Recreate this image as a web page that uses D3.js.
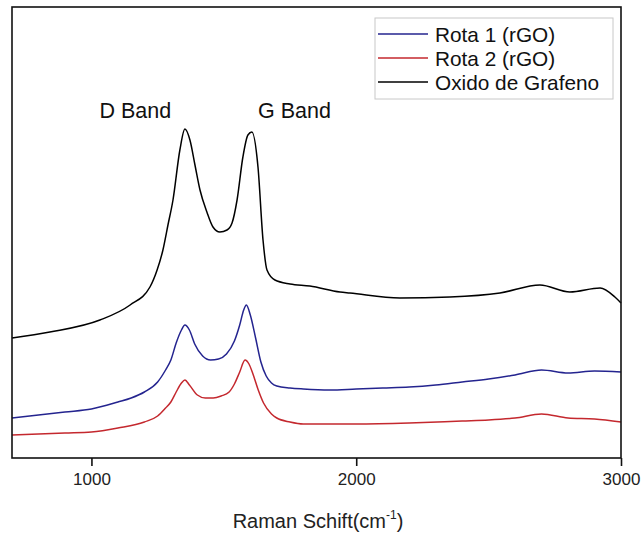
<!DOCTYPE html>
<html>
<head>
<meta charset="utf-8">
<script src="https://cdn.jsdelivr.net/npm/d3@7"></script>
<style>
  body { margin: 0; background: #fff; }
  svg { font-family: "Liberation Sans", Arial, sans-serif; }
</style>
</head>
<body>
<svg width="643" height="534"></svg>
<script>
// series names + colours (legend order)
const seriesNames = ['Rota 1 (rGO)', 'Rota 2 (rGO)', 'Oxido de Grafeno'];
const seriesColors = ['#24248f', '#c4282e', '#000000'];

// Oxido de Grafeno (black), wavenumber / intensity (a.u.)
const goShift = [700, 843, 1032, 1146, 1221, 1248, 1270, 1289, 1308, 1334, 1353, 1372, 1391, 1410, 1436, 1459, 1485, 1512, 1531, 1550, 1572, 1591, 1606, 1629, 1648, 1663, 1693, 1750, 1825, 1939, 1976, 2165, 2354, 2543, 2694, 2807, 2921, 2977, 3000];
const goIntensity = [120, 126, 138, 153, 171, 188, 208, 233, 258, 308, 329, 318, 293, 268, 246, 231, 226, 228, 235, 258, 301, 323, 326, 291, 218, 188, 178, 174, 172, 166, 165, 160, 161, 165, 173, 166, 170, 161, 155];

// Rota 1 (blue)
const r1Shift = [700, 800, 900, 1000, 1100, 1150, 1200, 1250, 1280, 1300, 1320, 1340, 1353, 1370, 1390, 1420, 1450, 1480, 1510, 1540, 1560, 1575, 1585, 1600, 1620, 1640, 1660, 1680, 1700, 1750, 1800, 1900, 2000, 2100, 2200, 2300, 2400, 2500, 2600, 2700, 2800, 2900, 3000];
const r1Intensity = [40, 43, 46, 49, 56, 60, 66, 76, 88, 98, 115, 128, 133, 128, 114, 102, 98, 99, 104, 117, 133, 148, 153, 143, 120, 96, 82, 75, 72, 70, 69, 68, 69, 70, 71, 73, 76, 79, 83, 88, 85, 87, 86];

// Rota 2 (red)
const r2Shift = [700, 800, 900, 1000, 1100, 1200, 1250, 1280, 1300, 1320, 1340, 1353, 1370, 1400, 1430, 1460, 1490, 1520, 1540, 1560, 1580, 1595, 1610, 1630, 1650, 1680, 1700, 1750, 1800, 1900, 2000, 2200, 2400, 2500, 2600, 2700, 2800, 2900, 3000];
const r2Intensity = [23, 24, 25, 26, 30, 36, 42, 50, 56, 66, 75, 78, 73, 63, 60, 60, 62, 66, 74, 86, 98, 94, 84, 68, 55, 44, 40, 36, 34, 34, 34, 35, 37, 38, 40, 44, 40, 39, 36];

const xTicks = [1000, 2000, 3000];
const bandLabels = ['D Band', 'G Band'];
const bandShift = [1166, 1767];

const svg = d3.select('svg');
// plot box in px
const m = {left: 12, right: 621, top: 7, bottom: 458};

const x = d3.scaleLinear().domain([700, 3000]).range([m.left, m.right]);
const y = d3.scaleLinear().domain([0, 451]).range([m.bottom, m.top]);

const series = [
  {shift: r1Shift, val: r1Intensity},
  {shift: r2Shift, val: r2Intensity},
  {shift: goShift, val: goIntensity}
];

const line = d3.line()
  .x(d => x(d[0]))
  .y(d => y(d[1]))
  .curve(d3.curveMonotoneX);

// curves
svg.append('g').selectAll('path')
  .data(series)
  .join('path')
  .attr('fill', 'none')
  .attr('stroke', (d, i) => seriesColors[i])
  .attr('stroke-width', 1.5)
  .attr('d', d => line(d3.zip(d.shift, d.val)));

// frame
svg.append('rect')
  .attr('x', m.left).attr('y', m.top)
  .attr('width', m.right - m.left).attr('height', m.bottom - m.top)
  .attr('fill', 'none').attr('stroke', '#111').attr('stroke-width', 1.6);

// bottom axis
const xAxis = svg.append('g')
  .attr('transform', `translate(0,${m.bottom})`)
  .call(d3.axisBottom(x).tickValues(xTicks).tickSize(8).tickPadding(7).tickFormat(d3.format('d')));
xAxis.select('.domain').remove();
xAxis.selectAll('line').attr('stroke', '#111').attr('stroke-width', 1.6);
xAxis.selectAll('text').attr('font-size', 17).attr('fill', '#222')
  .attr('font-family', '"Liberation Sans", Arial, sans-serif');

// axis title
const title = svg.append('text')
  .attr('x', 318).attr('y', 528)
  .attr('text-anchor', 'middle')
  .attr('font-size', 20).attr('fill', '#222');
title.append('tspan').text('Raman Schift(cm');
title.append('tspan').attr('font-size', 12).attr('dy', -9).text('-1');
title.append('tspan').attr('dy', 9).text(')');

// band labels
svg.append('g').selectAll('text')
  .data(bandLabels)
  .join('text')
  .attr('x', (d, i) => x(bandShift[i]))
  .attr('y', 118)
  .attr('text-anchor', 'middle')
  .attr('font-size', 21.5).attr('fill', '#111')
  .text(d => d);

// legend
const lg = svg.append('g');
lg.append('rect')
  .attr('x', 375).attr('y', 18).attr('width', 238).attr('height', 81)
  .attr('fill', '#fff').attr('stroke', '#c8c8c8').attr('stroke-width', 1);
const rows = lg.selectAll('g.row')
  .data(seriesNames)
  .join('g')
  .attr('class', 'row')
  .attr('transform', (d, i) => `translate(378,${34 + i * 24})`);
rows.append('line')
  .attr('x1', 0).attr('x2', 50)
  .attr('stroke', (d, i) => seriesColors[i]).attr('stroke-width', 1.5);
rows.append('text')
  .attr('x', 57).attr('dy', '0.36em')
  .attr('font-size', 20.8).attr('fill', '#111')
  .text(d => d);
</script>
</body>
</html>
